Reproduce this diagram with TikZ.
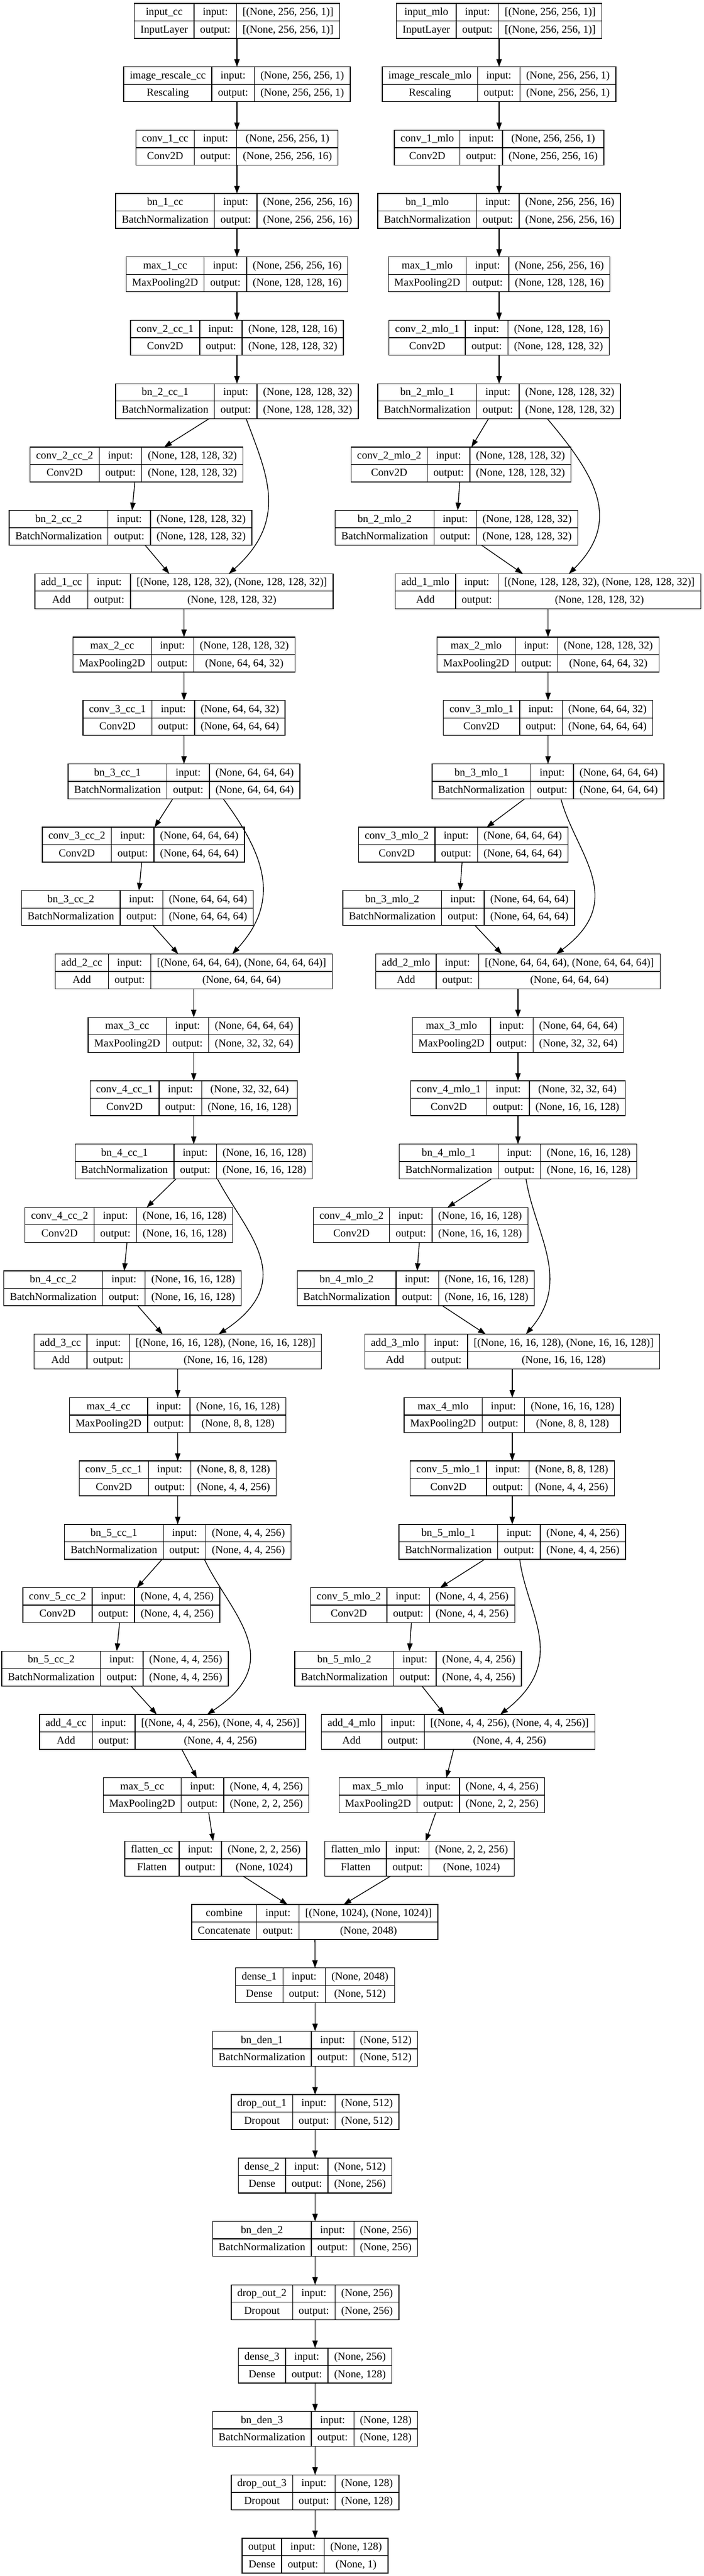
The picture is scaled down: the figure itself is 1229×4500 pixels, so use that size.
\documentclass[tikz,border=0pt]{standalone}
\usepackage{fontspec}
\setmainfont{Liberation Serif}
\usetikzlibrary{arrows.meta,calc}
\newlength\wA \newlength\wB \newlength\wC \newlength\wT \newlength\wAB
\newlength\cA \newlength\cB \newlength\cC
\font\recprim="Liberation Serif" at 14pt
\newcommand\recf{\recprim}
\tikzset{
  rec/.style={draw, line width=1pt, rectangle, inner sep=0pt, outer sep=0pt, minimum height=45.75pt},
  recl/.style={line width=1pt},
  txt/.style={inner sep=0pt, anchor=base, font=\recf},
  arr/.style={line width=1pt, -{Triangle[length=10pt,width=7pt]}},
}
\newcommand\krec[7]{%
  \settowidth\wA{\recprim #4}\settowidth\wT{\recprim #5}%
  \ifdim\wT>\wA \wA=\wT\fi \advance\wA by 16pt
  \settowidth\wB{\recprim output:}\advance\wB by 16pt
  \settowidth\wC{\recprim #6}\settowidth\wT{\recprim #7}%
  \ifdim\wT>\wC \wC=\wT\fi \advance\wC by 16pt
  \wT=\wA \advance\wT by \wB \advance\wT by \wC
  \wAB=\wA \advance\wAB by \wB
  \cA=\wA \divide\cA by 2
  \cB=\wB \divide\cB by 2 \advance\cB by \wA
  \cC=\wC \divide\cC by 2 \advance\cC by \wAB
  \node[rec, minimum width=\wT] (#1) at (#2,{36.5+110.7*#3}) {};
  \draw[recl] ([xshift=\wA]#1.north west) -- ([xshift=\wA]#1.south west)
    ([xshift=\wAB]#1.north west) -- ([xshift=\wAB]#1.south west)
    (#1.west) -- (#1.east);
  \node[txt] (#1-n) at ([xshift=\cA,yshift=-15.44pt]#1.north west) {#4};
  \node[txt] (#1-k) at ([xshift=\cA,yshift=-38.31pt]#1.north west) {#5};
  \node[txt] (#1-i) at ([xshift=\cB,yshift=-15.44pt]#1.north west) {input:};
  \node[txt] (#1-o) at ([xshift=\cB,yshift=-38.31pt]#1.north west) {output:};
  \node[txt] (#1-si) at ([xshift=\cC,yshift=-15.44pt]#1.north west) {#6};
  \node[txt] (#1-so) at ([xshift=\cC,yshift=-38.31pt]#1.north west) {#7};
}
\begin{document}
\begin{tikzpicture}[x=0.75pt,y=-0.75pt]
\fill[white] (0,0) rectangle (1229,4500);
\useasboundingbox (0,0) rectangle (1229,4500);
% ---------- CC column ----------
\krec{icc}{414}{0}{input\_cc}{InputLayer}{[(None, 256, 256, 1)]}{[(None, 256, 256, 1)]}
\krec{rcc}{414}{1}{image\_rescale\_cc}{Rescaling}{(None, 256, 256, 1)}{(None, 256, 256, 1)}
\krec{c1cc}{414}{2}{conv\_1\_cc}{Conv2D}{(None, 256, 256, 1)}{(None, 256, 256, 16)}
\krec{b1cc}{414}{3}{bn\_1\_cc}{BatchNormalization}{(None, 256, 256, 16)}{(None, 256, 256, 16)}
\krec{m1cc}{414}{4}{max\_1\_cc}{MaxPooling2D}{(None, 256, 256, 16)}{(None, 128, 128, 16)}
\krec{c21cc}{414}{5}{conv\_2\_cc\_1}{Conv2D}{(None, 128, 128, 16)}{(None, 128, 128, 32)}
\krec{b21cc}{414}{6}{bn\_2\_cc\_1}{BatchNormalization}{(None, 128, 128, 32)}{(None, 128, 128, 32)}
\krec{c22cc}{238.5}{7}{conv\_2\_cc\_2}{Conv2D}{(None, 128, 128, 32)}{(None, 128, 128, 32)}
\krec{b22cc}{228}{8}{bn\_2\_cc\_2}{BatchNormalization}{(None, 128, 128, 32)}{(None, 128, 128, 32)}
\krec{a1cc}{321.5}{9}{add\_1\_cc}{Add}{[(None, 128, 128, 32), (None, 128, 128, 32)]}{(None, 128, 128, 32)}
\krec{m2cc}{321.5}{10}{max\_2\_cc}{MaxPooling2D}{(None, 128, 128, 32)}{(None, 64, 64, 32)}
\krec{c31cc}{321.5}{11}{conv\_3\_cc\_1}{Conv2D}{(None, 64, 64, 32)}{(None, 64, 64, 64)}
\krec{b31cc}{321.5}{12}{bn\_3\_cc\_1}{BatchNormalization}{(None, 64, 64, 64)}{(None, 64, 64, 64)}
\krec{c32cc}{250.5}{13}{conv\_3\_cc\_2}{Conv2D}{(None, 64, 64, 64)}{(None, 64, 64, 64)}
\krec{b32cc}{240}{14}{bn\_3\_cc\_2}{BatchNormalization}{(None, 64, 64, 64)}{(None, 64, 64, 64)}
\krec{a2cc}{338.5}{15}{add\_2\_cc}{Add}{[(None, 64, 64, 64), (None, 64, 64, 64)]}{(None, 64, 64, 64)}
\krec{m3cc}{338.5}{16}{max\_3\_cc}{MaxPooling2D}{(None, 64, 64, 64)}{(None, 32, 32, 64)}
\krec{c41cc}{338.5}{17}{conv\_4\_cc\_1}{Conv2D}{(None, 32, 32, 64)}{(None, 16, 16, 128)}
\krec{b41cc}{338.5}{18}{bn\_4\_cc\_1}{BatchNormalization}{(None, 16, 16, 128)}{(None, 16, 16, 128)}
\krec{c42cc}{225}{19}{conv\_4\_cc\_2}{Conv2D}{(None, 16, 16, 128)}{(None, 16, 16, 128)}
\krec{b42cc}{214}{20}{bn\_4\_cc\_2}{BatchNormalization}{(None, 16, 16, 128)}{(None, 16, 16, 128)}
\krec{a3cc}{310.5}{21}{add\_3\_cc}{Add}{[(None, 16, 16, 128), (None, 16, 16, 128)]}{(None, 16, 16, 128)}
\krec{m4cc}{310.5}{22}{max\_4\_cc}{MaxPooling2D}{(None, 16, 16, 128)}{(None, 8, 8, 128)}
\krec{c51cc}{310.5}{23}{conv\_5\_cc\_1}{Conv2D}{(None, 8, 8, 128)}{(None, 4, 4, 256)}
\krec{b51cc}{310.5}{24}{bn\_5\_cc\_1}{BatchNormalization}{(None, 4, 4, 256)}{(None, 4, 4, 256)}
\krec{c52cc}{212}{25}{conv\_5\_cc\_2}{Conv2D}{(None, 4, 4, 256)}{(None, 4, 4, 256)}
\krec{b52cc}{201}{26}{bn\_5\_cc\_2}{BatchNormalization}{(None, 4, 4, 256)}{(None, 4, 4, 256)}
\krec{a4cc}{301.5}{27}{add\_4\_cc}{Add}{[(None, 4, 4, 256), (None, 4, 4, 256)]}{(None, 4, 4, 256)}
\krec{m5cc}{360}{28}{max\_5\_cc}{MaxPooling2D}{(None, 4, 4, 256)}{(None, 2, 2, 256)}
\krec{fcc}{377}{29}{flatten\_cc}{Flatten}{(None, 2, 2, 256)}{(None, 1024)}
% ---------- MLO column ----------
\krec{iml}{872}{0}{input\_mlo}{InputLayer}{[(None, 256, 256, 1)]}{[(None, 256, 256, 1)]}
\krec{rml}{872}{1}{image\_rescale\_mlo}{Rescaling}{(None, 256, 256, 1)}{(None, 256, 256, 1)}
\krec{c1ml}{872}{2}{conv\_1\_mlo}{Conv2D}{(None, 256, 256, 1)}{(None, 256, 256, 16)}
\krec{b1ml}{872}{3}{bn\_1\_mlo}{BatchNormalization}{(None, 256, 256, 16)}{(None, 256, 256, 16)}
\krec{m1ml}{872}{4}{max\_1\_mlo}{MaxPooling2D}{(None, 256, 256, 16)}{(None, 128, 128, 16)}
\krec{c21ml}{872}{5}{conv\_2\_mlo\_1}{Conv2D}{(None, 128, 128, 16)}{(None, 128, 128, 32)}
\krec{b21ml}{872}{6}{bn\_2\_mlo\_1}{BatchNormalization}{(None, 128, 128, 32)}{(None, 128, 128, 32)}
\krec{c22ml}{805.5}{7}{conv\_2\_mlo\_2}{Conv2D}{(None, 128, 128, 32)}{(None, 128, 128, 32)}
\krec{b22ml}{797.5}{8}{bn\_2\_mlo\_2}{BatchNormalization}{(None, 128, 128, 32)}{(None, 128, 128, 32)}
\krec{a1ml}{957.5}{9}{add\_1\_mlo}{Add}{[(None, 128, 128, 32), (None, 128, 128, 32)]}{(None, 128, 128, 32)}
\krec{m2ml}{957.5}{10}{max\_2\_mlo}{MaxPooling2D}{(None, 128, 128, 32)}{(None, 64, 64, 32)}
\krec{c31ml}{957.5}{11}{conv\_3\_mlo\_1}{Conv2D}{(None, 64, 64, 32)}{(None, 64, 64, 64)}
\krec{b31ml}{957.5}{12}{bn\_3\_mlo\_1}{BatchNormalization}{(None, 64, 64, 64)}{(None, 64, 64, 64)}
\krec{c32ml}{809.5}{13}{conv\_3\_mlo\_2}{Conv2D}{(None, 64, 64, 64)}{(None, 64, 64, 64)}
\krec{b32ml}{801.5}{14}{bn\_3\_mlo\_2}{BatchNormalization}{(None, 64, 64, 64)}{(None, 64, 64, 64)}
\krec{a2ml}{905}{15}{add\_2\_mlo}{Add}{[(None, 64, 64, 64), (None, 64, 64, 64)]}{(None, 64, 64, 64)}
\krec{m3ml}{905}{16}{max\_3\_mlo}{MaxPooling2D}{(None, 64, 64, 64)}{(None, 32, 32, 64)}
\krec{c41ml}{905}{17}{conv\_4\_mlo\_1}{Conv2D}{(None, 32, 32, 64)}{(None, 16, 16, 128)}
\krec{b41ml}{905}{18}{bn\_4\_mlo\_1}{BatchNormalization}{(None, 16, 16, 128)}{(None, 16, 16, 128)}
\krec{c42ml}{735}{19}{conv\_4\_mlo\_2}{Conv2D}{(None, 16, 16, 128)}{(None, 16, 16, 128)}
\krec{b42ml}{726.5}{20}{bn\_4\_mlo\_2}{BatchNormalization}{(None, 16, 16, 128)}{(None, 16, 16, 128)}
\krec{a3ml}{895}{21}{add\_3\_mlo}{Add}{[(None, 16, 16, 128), (None, 16, 16, 128)]}{(None, 16, 16, 128)}
\krec{m4ml}{895}{22}{max\_4\_mlo}{MaxPooling2D}{(None, 16, 16, 128)}{(None, 8, 8, 128)}
\krec{c51ml}{895}{23}{conv\_5\_mlo\_1}{Conv2D}{(None, 8, 8, 128)}{(None, 4, 4, 256)}
\krec{b51ml}{895}{24}{bn\_5\_mlo\_1}{BatchNormalization}{(None, 4, 4, 256)}{(None, 4, 4, 256)}
\krec{c52ml}{721}{25}{conv\_5\_mlo\_2}{Conv2D}{(None, 4, 4, 256)}{(None, 4, 4, 256)}
\krec{b52ml}{713}{26}{bn\_5\_mlo\_2}{BatchNormalization}{(None, 4, 4, 256)}{(None, 4, 4, 256)}
\krec{a4ml}{800.5}{27}{add\_4\_mlo}{Add}{[(None, 4, 4, 256), (None, 4, 4, 256)]}{(None, 4, 4, 256)}
\krec{m5ml}{772}{28}{max\_5\_mlo}{MaxPooling2D}{(None, 4, 4, 256)}{(None, 2, 2, 256)}
\krec{fml}{733}{29}{flatten\_mlo}{Flatten}{(None, 2, 2, 256)}{(None, 1024)}
% ---------- head ----------
\krec{comb}{550}{30}{combine}{Concatenate}{[(None, 1024), (None, 1024)]}{(None, 2048)}
\krec{d1}{550.5}{31}{dense\_1}{Dense}{(None, 2048)}{(None, 512)}
\krec{bd1}{550.5}{32}{bn\_den\_1}{BatchNormalization}{(None, 512)}{(None, 512)}
\krec{do1}{550.5}{33}{drop\_out\_1}{Dropout}{(None, 512)}{(None, 512)}
\krec{d2}{550.5}{34}{dense\_2}{Dense}{(None, 512)}{(None, 256)}
\krec{bd2}{550.5}{35}{bn\_den\_2}{BatchNormalization}{(None, 256)}{(None, 256)}
\krec{do2}{550.5}{36}{drop\_out\_2}{Dropout}{(None, 256)}{(None, 256)}
\krec{d3}{550.5}{37}{dense\_3}{Dense}{(None, 256)}{(None, 128)}
\krec{bd3}{550.5}{38}{bn\_den\_3}{BatchNormalization}{(None, 128)}{(None, 128)}
\krec{do3}{550.5}{39}{drop\_out\_3}{Dropout}{(None, 128)}{(None, 128)}
\krec{out}{550.5}{40}{output}{Dense}{(None, 128)}{(None, 1)}
% ---------- straight edges ----------
\foreach \s in {cc,ml}{
  \foreach \a/\b in {i/r, r/c1, c1/b1, b1/m1, m1/c21, c21/b21, b21/c22, c22/b22, b22/a1,
    a1/m2, m2/c31, c31/b31, b31/c32, c32/b32, b32/a2, a2/m3, m3/c41, c41/b41, b41/c42,
    c42/b42, b42/a3, a3/m4, m4/c51, c51/b51, b51/c52, c52/b52, b52/a4, a4/m5, m5/f}
    \draw[arr] (\a\s) -- (\b\s);
  \draw[arr] (f\s) -- (comb);
}
\foreach \a/\b in {comb/d1, d1/bd1, bd1/do1, do1/d2, d2/bd2, bd2/do2, do2/d3, d3/bd3, bd3/do3, do3/out}
  \draw[arr] (\a) -- (\b);
% ---------- skip connections ----------
\draw[arr] ($(b21cc.south)+(16,0)$) .. controls (465,826.05) and (506,907.45) .. ($(a1cc.north)+(78.5,0)$);
\draw[arr] ($(b21ml.south)+(84,0)$) .. controls (1036,826.05) and (1090,907.45) .. ($(a1ml.north)+(36.5,0)$);
\draw[arr] ($(b31cc.south)+(68.5,0)$) .. controls (460,1490.25) and (493.3,1571.65) .. ($(a2cc.north)+(67.5,0)$);
\draw[arr] ($(b31ml.south)+(22.5,0)$) .. controls (1005,1490.25) and (1099,1571.65) .. ($(a2ml.north)+(67,0)$);
\draw[arr] ($(b41cc.south)+(41.5,0)$) .. controls (430,2154.45) and (524,2235.85) .. ($(a3cc.north)+(71.5,0)$);
\draw[arr] ($(b41ml.south)+(14,0)$) .. controls (934,2154.45) and (1000,2235.85) .. ($(a3ml.north)+(24,0)$);
\draw[arr] ($(b51cc.south)+(46.5,0)$) .. controls (402,2818.65) and (505,2900.05) .. ($(a4cc.north)+(60.5,0)$);
\draw[arr] ($(b51ml.south)+(13,0)$) .. controls (920,2818.65) and (995,2900.05) .. ($(a4ml.north)+(73.5,0)$);
\end{tikzpicture}
\end{document}
